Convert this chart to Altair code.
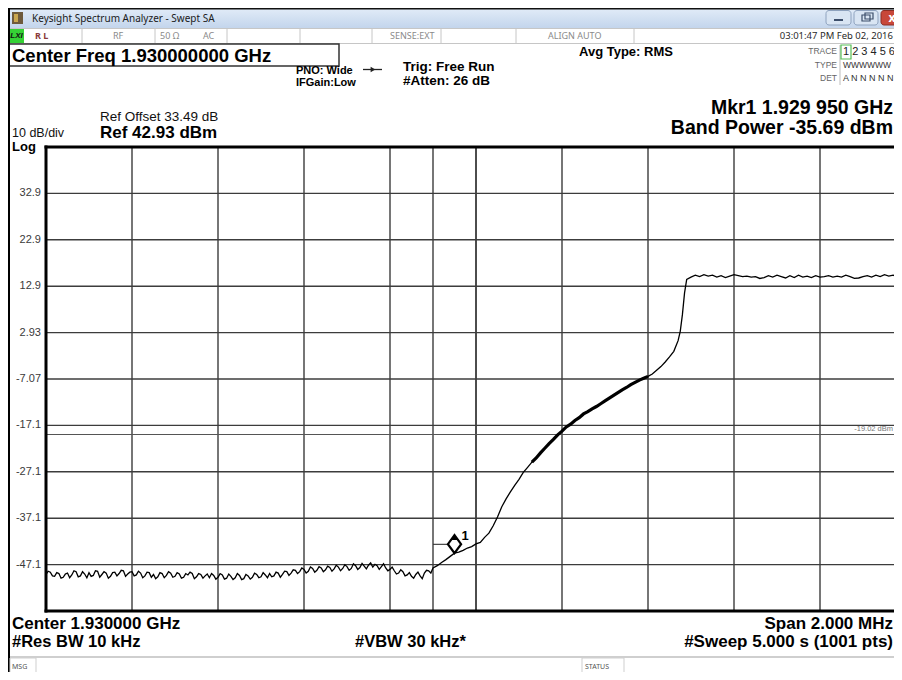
import altair as alt
import pandas as pd

# ---------------- data ----------------
# x: frequency offset in MHz from the left edge 1929.000 MHz (Center 1.930 GHz, Span 2 MHz)
# y: level in dBm (Ref 42.93 dBm, 10 dB/div)
sweep_step_mhz = 0.01

# noise floor, sampled on the sweep grid (0.00 .. 0.90 MHz)
noise_start_mhz = 0.0
noise_levels = [
    -49.2, -48.7, -49.6, -49.0, -49.8, -48.9, -49.3, -48.6, -49.5, -49.1,
    -48.8, -49.4, -48.5, -49.2, -48.9, -49.6, -48.7, -49.0, -48.4, -49.1,
    -48.6, -49.3, -48.9, -49.5, -48.8, -49.2, -49.7, -49.0, -49.4, -48.9,
    -49.6, -49.1, -49.8, -49.3, -49.0, -49.7, -49.2, -49.5, -49.9, -49.4,
    -49.8, -49.3, -50.0, -49.6, -49.9, -49.4, -50.1, -49.5, -49.8, -49.2,
    -49.7, -49.3, -49.0, -49.5, -48.9, -49.2, -48.6, -48.9, -48.3, -48.6,
    -48.1, -48.5, -47.9, -48.3, -47.8, -48.2, -47.7, -48.0, -47.6, -47.9,
    -47.5, -47.9, -47.3, -47.7, -47.4, -47.2, -47.6, -47.3, -47.5, -47.8,
    -48.1, -48.4, -48.9, -48.6, -49.3, -49.6, -49.2, -49.5, -48.9, -48.4,
    -47.8,
]
# noise floor between those points (0.005 .. 0.895 MHz)
noise_mid_start_mhz = 0.005
noise_mid_levels = [
    -48.5, -49.5, -48.8, -50.0, -49.1, -49.9, -48.4, -49.7, -48.6, -49.9,
    -49.6, -48.4, -49.8, -48.6, -50.0, -48.8, -49.5, -48.3, -49.6, -48.7,
    -49.5, -48.5, -49.9, -48.7, -49.8, -50.1, -48.8, -49.9, -48.6, -49.8,
    -48.8, -50.0, -49.0, -48.7, -50.1, -49.0, -50.0, -49.1, -49.0, -50.2,
    -49.0, -50.2, -49.1, -50.3, -49.0, -50.3, -49.2, -50.2, -48.9, -49.9,
    -48.8, -49.9, -49.7, -48.7, -49.8, -48.5, -49.4, -48.2, -49.0, -47.8,
    -48.9, -47.6, -48.7, -47.5, -48.6, -47.4, -48.5, -47.2, -48.4, -47.1,
    -48.3, -46.9, -48.1, -46.8, -48.0, -46.7, -47.0, -48.1, -46.9, -48.4,
    -47.6, -49.1, -48.2, -49.5, -48.8, -50.0, -48.7, -50.1, -48.3, -48.9,
]

ramp_freqs = [
    0.91, 0.92, 0.93, 0.94, 0.95, 0.96, 0.97, 0.98, 0.99, 1.00,
    1.01, 1.02, 1.03, 1.04, 1.05, 1.06, 1.07, 1.08, 1.09, 1.10,
    1.11, 1.12, 1.13, 1.14, 1.15, 1.16, 1.17, 1.18, 1.19, 1.20,
    1.21, 1.22, 1.23, 1.24, 1.25, 1.26, 1.27, 1.28, 1.29, 1.30,
    1.31, 1.32, 1.33, 1.34, 1.35, 1.36, 1.37, 1.38, 1.39, 1.40,
    1.41, 1.42, 1.43, 1.44, 1.45, 1.46, 1.47,
    1.475, 1.48, 1.485, 1.49,
]
ramp_levels = [
    -47.3, -46.6, -46.0, -45.3, -44.6, -44.4, -44.0, -43.5, -43.2, -42.6,
    -42.3, -41.2, -40.3, -38.7, -36.8, -34.6, -32.9, -31.4, -30.0, -28.7,
    -27.2, -26.1, -25.0, -24.1, -23.0, -22.0, -21.0, -20.1, -19.1, -18.3,
    -17.4, -16.8, -16.0, -15.4, -14.6, -14.1, -13.5, -13.0, -12.4, -11.8,
    -11.2, -10.6, -10.0, -9.4, -8.9, -8.3, -7.8, -7.3, -6.9, -6.5,
    -6.0, -5.2, -4.4, -3.4, -2.3, -1.1, 1.2,
    3.2, 6.8, 11.5, 14.4,
]
# part of the ramp where the dense sweep points make the trace look thick
thick_band_mhz = [1.13, 1.40]

flat_start_mhz = 1.50
flat_levels = [
    14.9, 15.3, 15.0, 15.4, 15.1, 15.3, 14.9, 15.2, 14.8, 15.1,
    15.4, 15.2, 15.0, 15.1, 14.9, 15.0, 14.6, 14.8, 15.2, 14.9,
    15.3, 15.0, 14.7, 15.2, 14.8, 15.3, 14.9, 15.1, 14.8, 15.2,
    14.9, 15.0, 15.2, 14.9, 15.1, 14.9, 15.3, 15.0, 14.6, 14.7,
    15.0, 15.2, 14.9, 15.3, 15.0, 15.4, 15.1, 15.3, 15.0, 15.2,
    15.1,
]

grid_freqs = [0.2, 0.4, 0.6, 0.8, 1.0, 1.2, 1.4, 1.6, 1.8]
grid_levels = [32.93, 22.93, 12.93, 2.93, -7.07, -17.07, -27.07, -37.07, -47.07]
grid_labels = ["32.9", "22.9", "12.9", "2.93", "-7.07", "-17.1", "-27.1", "-37.1", "-47.1"]
band_edges = [0.9, 1.0]
display_line_dbm = [-19.02]
marker_freq = [0.95]
marker_level = [-44.6]
marker_stub_level = [-42.7]

# ---------------- tables ----------------
trace = (
    [(noise_start_mhz + i * sweep_step_mhz, v) for i, v in enumerate(noise_levels)]
    + [(noise_mid_start_mhz + i * sweep_step_mhz, v) for i, v in enumerate(noise_mid_levels)]
    + list(zip(ramp_freqs, ramp_levels))
    + [(flat_start_mhz + i * sweep_step_mhz, v) for i, v in enumerate(flat_levels)]
)
trace_df = pd.DataFrame(trace, columns=["f", "dbm"]).sort_values("f").reset_index(drop=True)
vgrid_df = pd.DataFrame({"f": grid_freqs})
hgrid_df = pd.DataFrame({"dbm": grid_levels, "label": grid_labels})
band_df = pd.DataFrame({"f": band_edges})
dl_df = pd.DataFrame({"dbm": display_line_dbm})
mk_df = pd.DataFrame({"f": marker_freq, "dbm": marker_level})
stub_df = pd.DataFrame({"f": [band_edges[0]], "f2": marker_freq, "dbm": marker_stub_level})

# ---------------- layout ----------------
PAD_L, PAD_T, PAD_B = 38, 139, 61
W, H = 848, 464
OX, OY = 8 + PAD_L, 8 + PAD_T  # page coords of plot origin
SANS = "Liberation Sans"
UI = "Noto Sans"
GRID = "#3c3c3c"

xs = alt.Scale(domain=[0, W / 430.0], nice=False, zero=False)
ys = alt.Scale(domain=[-57.07, 42.93], nice=False, zero=False)
X = lambda f="f": alt.X(f"{f}:Q", scale=xs, axis=None)
Y = lambda f="dbm": alt.Y(f"{f}:Q", scale=ys, axis=None)

ONE = alt.Data(values=[{"k": 0}])


def txt(s, px, py, size, weight="normal", align="left", color="#000", font=SANS, **kw):
    return alt.Chart(ONE).mark_text(
        text=s, align=align, baseline="middle", fontSize=size,
        fontWeight=weight, color=color, font=font, **kw
    ).encode(x=alt.value(px - OX), y=alt.value(py - OY))


def box(x0, y0, x1, y1, fill="white", stroke="transparent", sw=0, **kw):
    return alt.Chart(ONE).mark_rect(fill=fill, stroke=stroke, strokeWidth=sw, **kw).encode(
        x=alt.value(x0 - OX), x2=alt.value(x1 - OX),
        y=alt.value(y0 - OY), y2=alt.value(y1 - OY))


def hline(x0, x1, py, color, sw):
    return alt.Chart(ONE).mark_rule(color=color, strokeWidth=sw).encode(
        x=alt.value(x0 - OX), x2=alt.value(x1 - OX), y=alt.value(py - OY))


def vline(px, y0, y1, color, sw):
    return alt.Chart(ONE).mark_rule(color=color, strokeWidth=sw).encode(
        x=alt.value(px - OX), y=alt.value(y0 - OY), y2=alt.value(y1 - OY))


layers = []

# ---- window chrome ----
title_grad = alt.Gradient(
    gradient="linear", x1=0, x2=0, y1=0, y2=1,
    stops=[alt.GradientStop(color="#e2ecf8", offset=0), alt.GradientStop(color="#c3d5ec", offset=1)])
layers += [
    box(8, 8, 910, 28, fill=title_grad),
    box(8, 8, 910, 9.5, fill="#111"),
    box(12, 12, 23, 24, fill="#6e5a3c"),
    box(14, 14, 18, 22, fill="#c9a64f"),
    txt("Keysight Spectrum Analyzer - Swept SA", 32, 18.5, 10, color="#1b1b1b", font=UI),
    box(826, 10.5, 851, 25, fill="#d9e5f3", stroke="#8ea2be", sw=1, cornerRadius=3),
    box(834, 19, 843, 21, fill="#3d4f6b"),
    box(854, 10.5, 878, 25, fill="#d9e5f3", stroke="#8ea2be", sw=1, cornerRadius=3),
    box(862, 15, 870, 21, fill="transparent", stroke="#3d4f6b", sw=1.2),
    box(865, 13, 873, 19, fill="transparent", stroke="#3d4f6b", sw=1.2),
    box(881, 10.5, 910, 25, fill="#c8473a", stroke="#8c2d24", sw=1, cornerRadius=3),
    txt("x", 892, 17.5, 12, weight="bold", align="center", color="white", font=UI),
]
# status row
layers += [
    box(9, 28.5, 910, 43.5, fill="white", stroke="#c6c6c6", sw=1),
]
for dx in [82, 155, 227, 300, 372, 441, 516, 634]:
    layers.append(vline(dx, 29, 43, "#c6c6c6", 1))
layers += [
    box(9, 29, 24, 43, fill="#35d235"),
    txt("LXI", 16.5, 36, 8, weight="bold", align="center", color="#111", fontStyle="italic"),
    txt("R L", 35, 36, 9, weight="bold", color="#8a3b3b", font=UI),
    txt("RF", 113, 36, 9, color="#8a8a8a", font=UI),
    txt("50 Ω", 160, 36, 9, color="#8a8a8a", font=UI),
    txt("AC", 203, 36, 9, color="#8a8a8a", font=UI),
    txt("SENSE:EXT", 390, 36, 9, color="#8a8a8a", font=UI),
    txt("ALIGN AUTO", 548, 36, 9, color="#8a8a8a", font=UI),
    txt("03:01:47 PM Feb 02, 2016", 893, 36, 9.5, align="right", color="#2a2a2a", font=UI),
]

# ---- settings header ----
layers += [
    box(9, 44, 339, 66, fill="white", stroke="#333", sw=1.5),
    txt("Center Freq 1.930000000 GHz", 12, 55.5, 18.5, weight="bold"),
    txt("PNO: Wide", 296, 71, 11, weight="bold"),
    txt("IFGain:Low", 296, 83, 11, weight="bold"),
    hline(363, 382, 69.5, "#222", 1.3),
    alt.Chart(ONE).mark_point(shape="triangle-right", size=30, filled=True, color="#222", opacity=1).encode(
        x=alt.value(373 - OX), y=alt.value(69.5 - OY)),
    txt("Trig: Free Run", 403, 67, 13.5, weight="bold"),
    txt("#Atten: 26 dB", 403, 81, 13.5, weight="bold"),
    txt("Avg Type: RMS", 579, 52, 13, weight="bold"),
    txt("TRACE", 837, 51, 8.5, align="right", color="#666"),
    txt("TYPE", 837, 65, 8.5, align="right", color="#666"),
    txt("DET", 837, 78, 8.5, align="right", color="#666"),
    vline(840, 45, 85, "#bdbdbd", 1),
    box(841, 45, 851, 59, fill="white", stroke="#58c058", sw=1.2),
    txt("1 2 3 4 5 6", 843, 52, 11, color="#222"),
    txt("WWWWWW", 843, 65, 8.5, color="#333"),
    txt("A N N N N N", 843, 78, 9, color="#333"),
    txt("Mkr1 1.929 950 GHz", 893, 107.5, 19.5, weight="bold", align="right"),
    txt("Band Power -35.69 dBm", 893, 128, 19.5, weight="bold", align="right"),
    txt("Ref Offset 33.49 dB", 100, 117, 13.5, color="#111"),
    txt("Ref 42.93 dBm", 100, 133, 17, weight="bold"),
    txt("10 dB/div", 12, 133, 12.5, color="#111"),
    txt("Log", 12, 147, 13, weight="bold"),
]

# ---- grid, trace and markers ----
layers += [
    alt.Chart(vgrid_df).mark_rule(color=GRID, strokeWidth=1.4).encode(
        x=X(), y=alt.value(0), y2=alt.value(H)),
    alt.Chart(band_df).mark_rule(color=GRID, strokeWidth=1.4).encode(
        x=X(), y=alt.value(0), y2=alt.value(H)),
    alt.Chart(hgrid_df).mark_rule(color=GRID, strokeWidth=1.4).encode(
        y=Y(), x=alt.value(0), x2=alt.value(W)),
    alt.Chart(dl_df).mark_rule(color="#555", strokeWidth=1.1).encode(
        y=Y(), x=alt.value(0), x2=alt.value(W)),
    alt.Chart(dl_df).mark_text(text="-19.02 dBm", align="right", baseline="bottom", dy=-1,
                               fontSize=7.5, color="#777", font=SANS).encode(
        y=Y(), x=alt.value(W - 1)),
    alt.Chart(hgrid_df).mark_text(align="right", baseline="middle", fontSize=11,
                                  color="#3a3a3a", font=SANS).encode(
        y=Y(), x=alt.value(-5), text="label:N"),
    alt.Chart(trace_df).mark_line(color="#000", strokeWidth=1.3, clip=True).encode(
        x=X(), y=Y(), order="f:Q"),
    alt.Chart(trace_df).transform_filter(
        (alt.datum.f >= thick_band_mhz[0]) & (alt.datum.f <= thick_band_mhz[1])
    ).mark_line(color="#000", strokeWidth=3.2, clip=True).encode(
        x=X(), y=Y(), order="f:Q"),
    alt.Chart(stub_df).mark_rule(color="#333", strokeWidth=1.1).encode(
        x=X(), x2="f2:Q", y=Y()),
    alt.Chart(mk_df).mark_point(
        shape="M0,0L0.55,-0.75L0,-1.5L-0.55,-0.75Z", size=576, filled=True,
        fill="white", stroke="#000", strokeWidth=2.2, opacity=1).encode(x=X(), y=Y()),
    alt.Chart(mk_df).mark_point(
        shape="M-0.3,-1.1L0.3,-1.1L0,-1.5Z", size=576, filled=True,
        color="#000", opacity=1).encode(x=X(), y=Y()),
    alt.Chart(mk_df).mark_text(text="1", align="left", baseline="middle", dx=7, dy=-17,
                               fontSize=13, fontWeight="bold", font=SANS, color="#000").encode(
        x=X(), y=Y()),
]

# ---- plot frame ----
layers += [
    box(OX - 1.5, OY - 1.5, 910, OY + 1.5, fill="#000"),
    box(OX - 1.5, OY - 1.5, OX + 1.5, OY + H + 1.5, fill="#000"),
    box(OX - 1.5, OY + H - 1.5, 910, OY + H + 1.5, fill="#000"),
    box(8, 8, 10, 680, fill="#000"),
]

# ---- footer ----
layers += [
    txt("Center 1.930000 GHz", 12, 623.5, 17, weight="bold"),
    txt("#Res BW 10 kHz", 12, 641.5, 16.5, weight="bold"),
    txt("#VBW 30 kHz*", 355, 641.5, 16.5, weight="bold"),
    txt("Span 2.000 MHz", 893, 623.5, 17, weight="bold", align="right"),
    txt("#Sweep  5.000 s (1001 pts)", 893, 641.5, 17, weight="bold", align="right"),
    hline(10, 910, 657, "#cfcfcf", 2),
    box(10, 658, 36, 690, fill="white", stroke="#cfcfcf", sw=1),
    txt("MSG", 12, 666.5, 7, color="#555", font=UI),
    box(582, 658, 624, 690, fill="white", stroke="#cfcfcf", sw=1),
    txt("STATUS", 585, 666.5, 7, color="#555", font=UI),
]

chart = alt.layer(*layers).properties(
    width=W, height=H,
    padding={"left": PAD_L, "top": PAD_T, "right": 0, "bottom": PAD_B},
    autosize="none",
    background="white",
).configure_view(strokeWidth=0)

chart.save("out.html", embed_options={"renderer": "svg", "actions": False})
